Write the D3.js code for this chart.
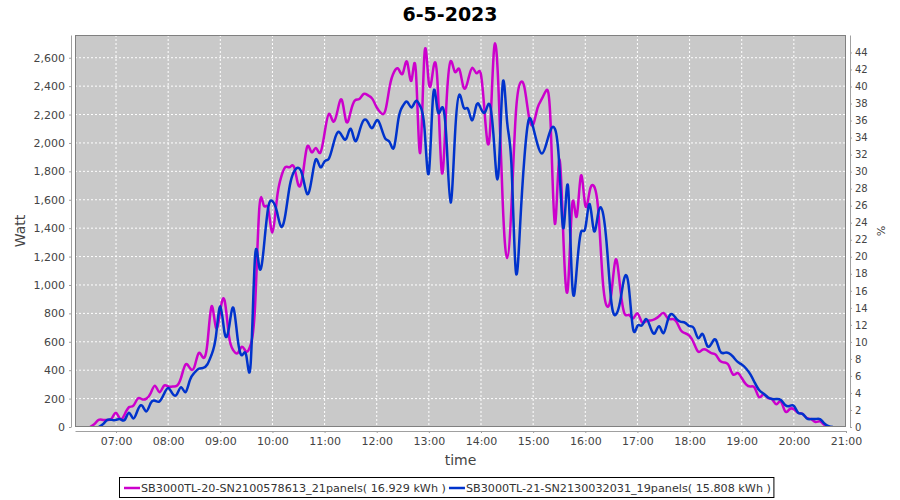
<!DOCTYPE html>
<html><head><meta charset="utf-8">
<script src="https://cdn.jsdelivr.net/npm/d3@7"></script>
<style>body{margin:0;background:#fff} svg{display:block;font-family:"DejaVu Sans",sans-serif}</style>
</head><body><svg id="c" width="900" height="500"></svg>
<script>
const chartTitle = "6-5-2023";
const xTitle = "time", yTitle = "Watt", y2Title = "%";
const startTime = "06:30", stepMinutes = 5;
const seriesNames = ["SB3000TL-20-SN2100578613_21panels( 16.929 kWh )", "SB3000TL-21-SN2130032031_19panels( 15.808 kWh )"];
const seriesColors = ["#cc00cc", "#0033cc"];
// 5-minute samples from 06:30 to 20:45 (Watt)
const magentaW = [
  0,20,50,50,50,60,
  100,55,90,140,150,200,195,200,240,290,245,290,
  285,285,290,350,440,415,420,520,490,580,850,700,
  820,890,640,540,520,565,530,580,850,1550,1560,1540,
  1370,1600,1760,1830,1830,1830,1700,1780,1975,1935,1965,1930,
  2070,2205,2150,2230,2300,2150,2220,2300,2310,2345,2335,2310,
  2250,2210,2230,2400,2500,2520,2490,2570,2440,2510,1930,2630,
  2420,2520,2420,1790,2250,2575,2500,2520,2390,2440,2530,2490,
  2480,2150,2050,2660,2400,1580,1190,1550,2200,2420,2390,2190,
  2130,2245,2310,2370,2150,1430,1880,1300,980,1570,1480,1770,
  1560,1660,1695,1520,1040,850,940,1180,990,800,790,765,
  800,740,745,750,760,780,803,765,760,740,680,660,
  641,590,530,545,540,520,510,465,455,435,370,380,
  345,300,285,275,210,230,205,195,160,180,110,125,
  125,100,92,63,56,35,40,15,0,null
];
const blueW = [
  null,null,0,20,50,50,
  50,55,50,100,60,120,150,110,170,185,180,230,
  275,235,230,280,245,330,380,410,415,440,510,640,
  850,660,700,840,620,505,500,450,1200,1120,1260,1540,
  1590,1520,1410,1500,1700,1800,1825,1760,1640,1740,1885,1830,
  1870,1890,1990,2075,2050,2030,2100,2015,2080,2160,2145,2105,
  2160,2110,2030,2005,1970,2170,2260,2290,2250,2295,2260,2100,
  1790,2340,2230,2250,2050,1580,2050,2340,2250,2240,2160,2270,
  2240,2220,2270,2000,1780,2420,2150,1850,1100,1420,1900,2165,
  2110,1990,1925,1990,2090,2100,1850,1400,1700,1000,1100,1370,
  1400,1570,1380,1510,1515,1260,880,790,880,1050,990,690,
  712,715,760,700,660,710,660,755,795,760,740,733,
  710,695,625,655,575,585,615,535,522,520,495,460,
  440,412,370,312,260,235,210,197,197,190,155,148,
  148,100,92,60,56,56,56,25,5,0
];
const xTickLabels = ["07:00","08:00","09:00","10:00","11:00","12:00","13:00","14:00","15:00","16:00","17:00","18:00","19:00","20:00","21:00"];
const leftTicks = [0,200,400,600,800,1000,1200,1400,1600,1800,2000,2200,2400,2600];
const rightTicks = [0,2,4,6,8,10,12,14,16,18,20,22,24,26,28,30,32,34,36,38,40,42,44];

const toMin = s => { const [h,m] = s.split(":").map(Number); return h*60+m; };
const t0 = toMin(startTime);
const times = magentaW.map((_, i) => t0 + i*stepMinutes);

const svg = d3.select("#c");
const P = {l:75, r:846, t:35, b:427};

const x = d3.scaleLinear().domain([372.8, 1260]).range([P.l, P.r]);
const y = d3.scaleLinear().domain([0, 2760]).range([P.b, P.t]);
const y2 = d3.scaleLinear().domain([0, 46.05]).range([P.b, P.t]);

// title
svg.append("text").attr("x", 450).attr("y", 21).attr("text-anchor","middle")
  .attr("font-size", 19).attr("font-weight","bold").attr("fill","#000").text(chartTitle);

// plot background
svg.append("rect").attr("x",P.l).attr("y",P.t).attr("width",P.r-P.l).attr("height",P.b-P.t)
  .attr("fill","#c9c9c9");

// gridlines
const g = svg.append("g");
g.selectAll("line.v").data(xTickLabels.map(toMin)).join("line")
  .attr("x1",d=>x(d)).attr("x2",d=>x(d)).attr("y1",P.t).attr("y2",P.b)
  .attr("stroke","#fff").attr("stroke-width",1).attr("stroke-dasharray","2,2");
g.selectAll("line.h").data(leftTicks).join("line")
  .attr("x1",P.l).attr("x2",P.r).attr("y1",d=>y(d)).attr("y2",d=>y(d))
  .attr("stroke","#fff").attr("stroke-width",1).attr("stroke-dasharray","2,2");

// lines
const series = [magentaW, blueW];
svg.append("clipPath").attr("id","clp").append("rect")
  .attr("x",P.l).attr("y",P.t).attr("width",P.r-P.l).attr("height",P.b-P.t);
series.forEach((vals, si) => {
  const pts = vals.map((v,i)=>({t:times[i], v})).filter(d=>d.v!==null);
  const line = d3.line().x(d=>x(d.t)).y(d=>y(d.v)).curve(d3.curveNatural);
  svg.append("path").attr("d", line(pts)).attr("fill","none")
    .attr("stroke", seriesColors[si]).attr("stroke-width", 2.5)
    .attr("stroke-linejoin","round").attr("clip-path","url(#clp)");
});

// plot border
svg.append("rect").attr("x",P.l+0.5).attr("y",P.t+0.5).attr("width",P.r-P.l-1).attr("height",P.b-P.t-1)
  .attr("fill","none").attr("stroke","#808080").attr("stroke-width",1);

// axes
function styleAxis(sel){
  sel.selectAll("path").attr("stroke","#a0a0a0");
  sel.selectAll("line").attr("stroke","#a0a0a0");
  sel.selectAll("text").attr("fill","#444").attr("font-family","'DejaVu Sans',sans-serif");
}
const ax = svg.append("g").attr("transform",`translate(0,${P.b+4})`)
  .call(d3.axisBottom(x).tickValues(xTickLabels.map(toMin)).tickFormat((d,i)=>xTickLabels[i]).tickSize(2).tickSizeOuter(0).tickPadding(4))
  .attr("font-size", 11);
styleAxis(ax);
const ay = svg.append("g").attr("transform",`translate(${P.l-4},0)`)
  .call(d3.axisLeft(y).tickValues(leftTicks).tickFormat(d3.format(",")).tickSize(2).tickSizeOuter(0).tickPadding(4))
  .attr("font-size", 11);
styleAxis(ay);
const ay2 = svg.append("g").attr("transform",`translate(${P.r+4},0)`)
  .call(d3.axisRight(y2).tickValues(rightTicks).tickSize(2).tickSizeOuter(0).tickPadding(3))
  .attr("font-size", 10);
styleAxis(ay2);

// axis titles
svg.append("text").attr("x",(P.l+P.r)/2).attr("y",465).attr("text-anchor","middle")
  .attr("font-size",14).attr("fill","#444").text(xTitle);
svg.append("text").attr("transform",`translate(25,${(P.t+P.b)/2}) rotate(-90)`).attr("text-anchor","middle")
  .attr("font-size",14).attr("fill","#444").text(yTitle);
svg.append("text").attr("transform",`translate(877,${(P.t+P.b)/2}) rotate(90)`).attr("text-anchor","middle")
  .attr("font-size",11).attr("fill","#444").text(y2Title);

// legend
const lg = svg.append("g");
const box = lg.append("rect").attr("x",119.5).attr("y",477.5).attr("height",20)
  .attr("fill","#fff").attr("stroke","#000").attr("stroke-width",1);
let cx = 124;
seriesNames.forEach((n,i)=>{
  lg.append("line").attr("x1",cx).attr("x2",cx+16).attr("y1",488).attr("y2",488)
    .attr("stroke",seriesColors[i]).attr("stroke-width",2.5);
  const tx = lg.append("text").attr("x",cx+17).attr("y",492).attr("font-size",11.2).attr("fill","#333").text(n);
  cx = cx + 17 + tx.node().getComputedTextLength() + 3;
});
box.attr("width", cx - 119.5);
</script></body></html>
